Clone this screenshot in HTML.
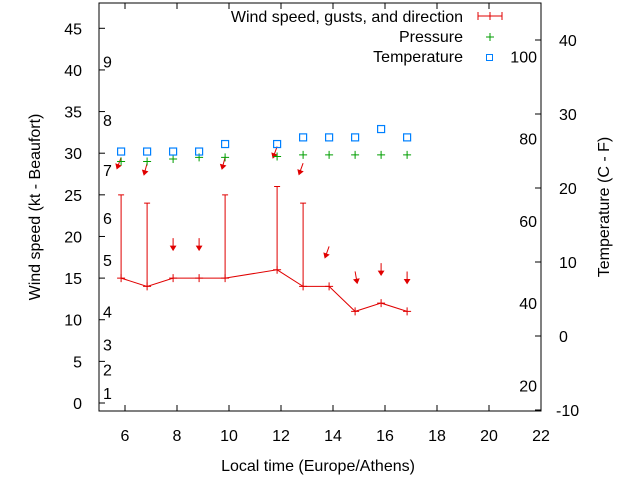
<!DOCTYPE html>
<html><head><meta charset="utf-8"><style>
body{margin:0;background:#fff}
svg{display:block;font-family:"Liberation Sans",sans-serif}
</style></head><body>
<svg id="c" width="640" height="480" viewBox="0 0 640 480">
<rect width="640" height="480" fill="#fff"/>
<g id="axes"></g><g id="marks"></g>
<text x="318" y="471" font-size="16" text-anchor="middle">Local time (Europe/Athens)</text>
<text transform="translate(40,207) rotate(-90)" font-size="16" text-anchor="middle">Wind speed (kt - Beaufort)</text>
<text transform="translate(609,207) rotate(-90)" font-size="16" text-anchor="middle">Temperature (C - F)</text>
<g font-size="16">
<text x="463" y="22" text-anchor="end">Wind speed, gusts, and direction</text>
<path d="M478 16H502M478 12V20M490 12V20M502 12V20" stroke="#e00000" stroke-width="1" fill="none"/>
<text x="463" y="42" text-anchor="end">Pressure</text>
<path d="M486 37H494M490 33V41" stroke="#009e00"/>
<text x="463" y="62" text-anchor="end">Temperature</text>
<rect x="486.5" y="54.5" width="6" height="6" fill="none" stroke="#0080ff"/>
</g>
</svg>
<script>
const times=[5.85,6.85,7.85,8.85,9.85,11.85,12.85,13.85,14.85,15.85,16.85];
const speed=[15,14,15,15,15,16,14,14,11,12,11];
const gust=[25,24,null,null,25,26,24,null,null,null,null];
const pressure=[29,29,29.3,29.5,29.5,29.6,29.8,29.8,29.8,29.8,29.8];
const temperature=[30.2,30.2,30.2,30.2,31.1,31.1,31.9,31.9,31.9,32.9,31.9];
const arrowVal=[29.5,28.8,19.8,19.8,29.5,30.8,28.8,18.8,15.8,16.8,15.8];
const arrowDir=[20,15,0,0,15,20,20,20,350,0,0];
const xTicks=[6,8,10,12,14,16,18,20,22];
const yTicks=[0,5,10,15,20,25,30,35,40,45];
const y2Ticks=[-10,0,10,20,30,40];
const fLabels=[20,40,60,80,100];
const bftLabels=[1,2,3,4,5,6,7,8,9];
const bftVals=[1.2,4,7,11,17.2,22.2,28,34,41];

const L=99,R=541,T=3,B=411;
const X=t=>125+(t-6)*26;
const Y=v=>403-v*(374.7/45);
const Y2=c=>410-(c+10)*7.4;
const YF=f=>Y2((f-32)*5/9);
const NS="http://www.w3.org/2000/svg";
const ax=document.getElementById('axes'),mk=document.getElementById('marks');
function el(p,tag,attrs){const e=document.createElementNS(NS,tag);for(const k in attrs)e.setAttribute(k,attrs[k]);p.appendChild(e);return e;}
function txt(p,x,y,s,anchor,size){const e=el(p,'text',{x:x,y:y,'font-size':size||16,'text-anchor':anchor});e.textContent=s;return e;}

let f=el(ax,'rect',{x:L,y:T,width:R-L,height:B-T,fill:'none',stroke:'#000','stroke-width':1});


xTicks.forEach(t=>{const x=X(t);
 let l=el(ax,'path',{d:`M${x} ${B}v-6M${x} ${T}v6`,stroke:'#000'});
 
 
 let s=txt(ax,x,441,String(t),'middle');
 
 });
yTicks.forEach(v=>{const y=Y(v);
 let l=el(ax,'path',{d:`M${L} ${y}h6`,stroke:'#000'});
 
 
 let s=txt(ax,82,y+6,String(v),'end');
 
 });
y2Ticks.forEach(c=>{const y=Y2(c);
 let l=el(ax,'path',{d:`M${R} ${y}h-6`,stroke:'#000'});
 
 
 let s=txt(ax,c<0?556:559,y+6,String(c),'start');
 
 });
fLabels.forEach(v=>{
 let s=txt(ax,537,YF(v)+6,String(v),'end');
 
 });
bftLabels.forEach((b,i)=>{
 let s=txt(ax,103,Y(bftVals[i])+6,String(b),'start');
 
 });

let pts=times.map((t,i)=>`${X(t)},${Y(speed[i])}`).join(' ');
let pl=el(mk,'polyline',{points:pts,fill:'none',stroke:'#e00000','stroke-width':1});


times.forEach((t,i)=>{const x=X(t),y=Y(speed[i]);
 let p=el(mk,'path',{d:`M${x-4} ${y}h8M${x} ${y-4}v8`,stroke:'#e00000'});
 
 
 if(gust[i]!=null){const g=Y(gust[i]);
  let e=el(mk,'path',{d:`M${x} ${y}V${g}M${x-3} ${g}h6`,stroke:'#e00000'});
  
  }
 const a=arrowDir[i]*Math.PI/180,ty=Y(arrowVal[i]),len=12;
 const hx=x-Math.sin(a)*len,hy=ty+Math.cos(a)*len,tx=x;
 const dx=(hx-tx)/len,dy=(hy-ty)/len;
 const lx=hx-dx*4-dy*2.5,ly=hy-dy*4+dx*2.5,rx=hx-dx*4+dy*2.5,ry=hy-dy*4-dx*2.5;
 let ar=el(mk,'path',{d:`M${tx} ${ty}L${hx} ${hy}M${lx} ${ly}L${hx} ${hy}L${rx} ${ry}Z`,stroke:'#e00000',fill:'#e00000','stroke-width':1});
 
 
 const py=Y(pressure[i]);
 let pp=el(mk,'path',{d:`M${x-4} ${py}h8M${x} ${py-4}v8`,stroke:'#009e00'});
 
 
 const qy=Y(temperature[i]);
 let q=el(mk,'rect',{x:x-3.5,y:qy-3.5,width:7,height:7,fill:'none',stroke:'#0080ff','stroke-width':1.2});
 
 
});
</script>
</body></html>
